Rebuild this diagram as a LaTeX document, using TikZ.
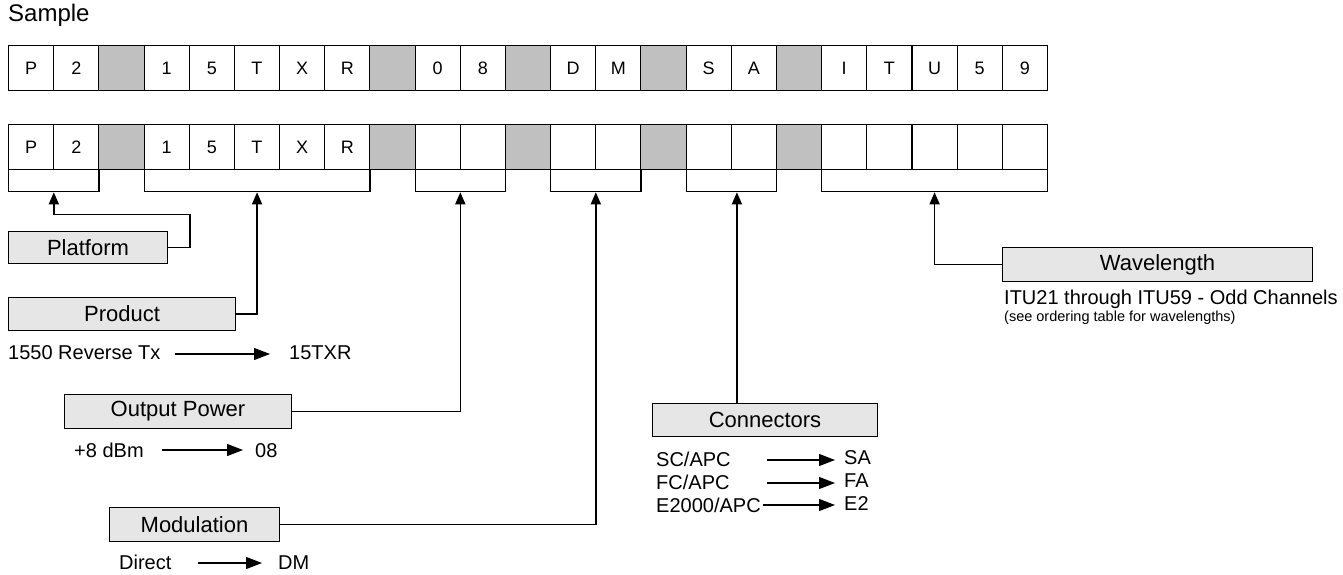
\documentclass[tikz,border=0pt]{standalone}
\usepackage{fontspec}
\setmainfont{Liberation Sans}
\usetikzlibrary{arrows.meta}
\definecolor{cellgray}{HTML}{C0C0C0}
\definecolor{boxgray}{HTML}{E6E6E6}
\begin{document}
\begin{tikzpicture}[x=1pt,y=-1pt,
 cell/.style={draw, line width=1.1pt, minimum width=45.17pt, minimum height=45pt, inner sep=0pt, anchor=north west, font=\fontsize{18}{20}\selectfont},
 gcell/.style={cell, fill=cellgray},
 brk/.style={draw, line width=1.3pt, minimum height=22pt, inner sep=0pt, anchor=north west},
 lbl/.style={draw, line width=1pt, fill=boxgray, inner sep=0pt, anchor=north west, font=\fontsize{22}{24}\selectfont},
 txt/.style={anchor=base west, inner sep=0pt, font=\fontsize{20}{22}\selectfont},
 conn/.style={line width=1.5pt, -{Triangle[length=12pt,width=10pt]}},
 marr/.style={line width=1.2pt, -{Triangle[length=16pt,width=12pt]}}
]
\useasboundingbox (0,0) rectangle (1343,575);
\node[anchor=base west, inner sep=0pt, font=\fontsize{24}{26}\selectfont] (title) at (8,22) {Sample};
% top row
\foreach \i/\t/\s in {0/P/cell,1/2/cell,2//gcell,3/1/cell,4/5/cell,5/T/cell,6/X/cell,7/R/cell,8//gcell,9/0/cell,10/8/cell,11//gcell,12/D/cell,13/M/cell,14//gcell,15/S/cell,16/A/cell,17//gcell,18/I/cell,19/T/cell,20/U/cell,21/5/cell,22/9/cell}
  \node[\s] (t\i) at ({8+\i*45.17},45) {\t};
% second row
\foreach \i/\t/\s in {0/P/cell,1/2/cell,2//gcell,3/1/cell,4/5/cell,5/T/cell,6/X/cell,7/R/cell,8//gcell,9//cell,10//cell,11//gcell,12//cell,13//cell,14//gcell,15//cell,16//cell,17//gcell,18//cell,19//cell,20//cell,21//cell,22//cell}
  \node[\s] (b\i) at ({8+\i*45.17},124) {\t};
% brackets
\node[brk, minimum width=90.34pt] (bp) at (8,169) {};
\node[brk, minimum width=225.85pt] (bpr) at (143.5,169) {};
\node[brk, minimum width=90.34pt] (bo) at (414.5,169) {};
\node[brk, minimum width=90.34pt] (bd) at (550,169) {};
\node[brk, minimum width=90.34pt] (bsa) at (685.6,169) {};
\node[brk, minimum width=225.85pt] (bw) at (821,169) {};
% label boxes
\node[lbl, minimum width=159pt, minimum height=32pt] (plat) at (8,231) {Platform};
\node[lbl, minimum width=227pt, minimum height=33pt] (prod) at (8,297) {Product};
\node[lbl, minimum width=227pt, minimum height=34pt] (outp) at (64,394) {Output Power};
\node[lbl, minimum width=170pt, minimum height=34pt] (modu) at (109,507) {Modulation};
\node[lbl, minimum width=225pt, minimum height=33pt] (conr) at (652,403) {Connectors};
\node[lbl, minimum width=310pt, minimum height=34pt] (wave) at (1002,247) {Wavelength};
% connectors
\draw[conn] (plat.east) -| ++(22,-33) -| (bp.south);
\draw[conn] (prod.east) -| (bpr.south);
\draw[conn] (outp.east) -| (bo.south);
\draw[conn] (modu.east) -| (bd.south);
\draw[conn] ([xshift=5.5pt]bsa.south |- conr.north) -- ([xshift=5.5pt]bsa.south);
\draw[conn] (wave.west) -| (bw.south);
% mapping texts
\node[txt] (p1) at (8,359) {1550 Reverse Tx};
\node[txt] (p2) at (289,359) {15TXR};
\coordinate (pa) at (175,354); \coordinate (pb) at (270,354);
\draw[marr] (pa) -- (pb);
\node[txt] (o1) at (74,457) {+8 dBm};
\node[txt] (o2) at (255,457) {08};
\coordinate (oa) at (162,450); \coordinate (ob) at (243,450);
\draw[marr] (oa) -- (ob);
\node[txt] (m1) at (119,569) {Direct};
\node[txt] (m2) at (278,569) {DM};
\coordinate (ma) at (198,563); \coordinate (mb) at (262,563);
\draw[marr] (ma) -- (mb);
\node[txt] (c1) at (656,466) {SC/APC};
\node[txt] (c2) at (844,464) {SA};
\coordinate (ca) at (767,460); \coordinate (cb) at (835,460);
\draw[marr] (ca) -- (cb);
\node[txt] (c3) at (656,489) {FC/APC};
\node[txt] (c4) at (844,487) {FA};
\coordinate (cc) at (767,483); \coordinate (cd) at (835,483);
\draw[marr] (cc) -- (cd);
\node[txt] (c5) at (656,512) {E2000/APC};
\node[txt] (c6) at (844,510) {E2};
\coordinate (ce) at (763,505); \coordinate (cf) at (835,505);
\draw[marr] (ce) -- (cf);
\node[txt] (w1) at (1004,304) {ITU21 through ITU59 - Odd Channels};
\node[anchor=base west, inner sep=0pt, font=\fontsize{14.5}{16}\selectfont] (w2) at (1004,321) {(see ordering table for wavelengths)};
\end{tikzpicture}
\end{document}
